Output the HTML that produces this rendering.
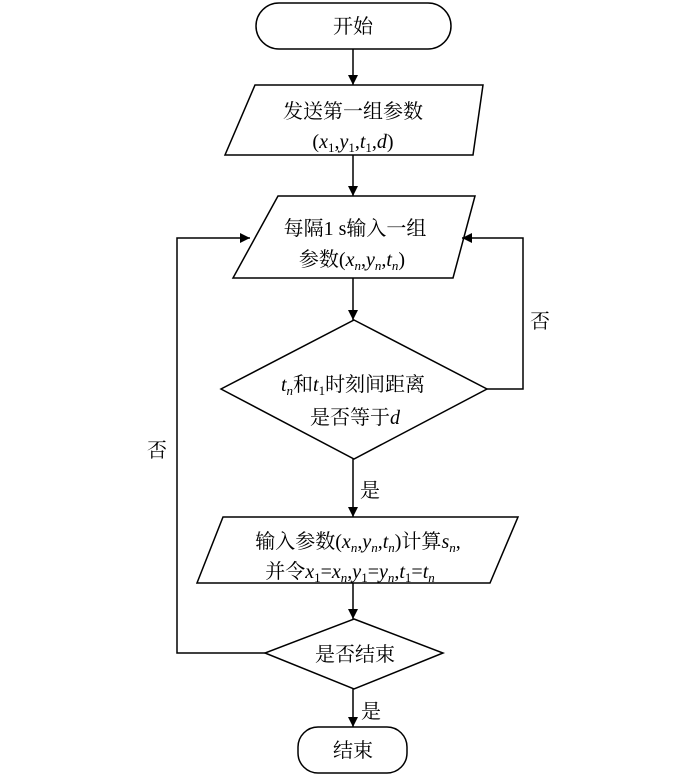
<!DOCTYPE html>
<html><head><meta charset="utf-8"><style>body{margin:0;background:#fff}</style></head><body>
<svg width="700" height="779" viewBox="0 0 700 779" xmlns="http://www.w3.org/2000/svg" font-family="'Liberation Serif','Noto Serif CJK SC','Noto Sans CJK SC',serif" font-size="20">
<defs><marker id="a" markerWidth="10" markerHeight="14" refX="10" refY="7" orient="auto" markerUnits="userSpaceOnUse"><path d="M0,2 L10,7 L0,12 Z" fill="#000"/></marker></defs>
<g fill="none" stroke="#000" stroke-width="1.5">
<rect x="256" y="3" width="195" height="46" rx="23"/>
<line x1="353" y1="49" x2="353" y2="85" marker-end="url(#a)"/>
<polygon points="255,85 483,85 473,155 225,155"/>
<line x1="353" y1="155" x2="353" y2="196" marker-end="url(#a)"/>
<polygon points="278,196 475,196 453,278 233,278"/>
<line x1="353" y1="278" x2="353" y2="320" marker-end="url(#a)"/>
<polygon points="354,320 487,389 354,459 221,389"/>
<polyline points="487,389 523,389 523,238 462,238" marker-end="url(#a)"/>
<line x1="353" y1="459" x2="353" y2="517" marker-end="url(#a)"/>
<polygon points="223,517 518,517 490,583 197,583"/>
<line x1="353" y1="583" x2="353" y2="619" marker-end="url(#a)"/>
<polygon points="354,619 443,653 354,689 265,653"/>
<polyline points="265,653 177,653 177,238 250,238" marker-end="url(#a)"/>
<line x1="353" y1="689" x2="353" y2="727" marker-end="url(#a)"/>
<rect x="298" y="727" width="109" height="46" rx="20"/>
</g>
<g fill="#000" text-anchor="middle">
<text x="353" y="33">开始</text>
<text x="353" y="118">发送第一组参数</text>
<text x="353" y="148">(<tspan font-style="italic">x</tspan><tspan font-size="13" dy="4">1</tspan><tspan dy="-4">,</tspan><tspan font-style="italic">y</tspan><tspan font-size="13" dy="4">1</tspan><tspan dy="-4">,</tspan><tspan font-style="italic">t</tspan><tspan font-size="13" dy="4">1</tspan><tspan dy="-4">,</tspan><tspan font-style="italic">d</tspan>)</text>
<text x="355" y="235">每隔1 s输入一组</text>
<text x="352" y="266">参数(<tspan font-style="italic">x</tspan><tspan font-size="13" dy="4" font-style="italic">n</tspan><tspan dy="-4">,</tspan><tspan font-style="italic">y</tspan><tspan font-size="13" dy="4" font-style="italic">n</tspan><tspan dy="-4">,</tspan><tspan font-style="italic">t</tspan><tspan font-size="13" dy="4" font-style="italic">n</tspan><tspan dy="-4">)</tspan></text>
<text x="353" y="391"><tspan font-style="italic">t</tspan><tspan font-size="13" dy="4" font-style="italic">n</tspan><tspan dy="-4">和</tspan><tspan font-style="italic">t</tspan><tspan font-size="13" dy="4">1</tspan><tspan dy="-4">时刻间距离</tspan></text>
<text x="355" y="424">是否等于<tspan font-style="italic">d</tspan></text>
<text x="358" y="548">输入参数(<tspan font-style="italic">x</tspan><tspan font-size="13" dy="4" font-style="italic">n</tspan><tspan dy="-4">,</tspan><tspan font-style="italic">y</tspan><tspan font-size="13" dy="4" font-style="italic">n</tspan><tspan dy="-4">,</tspan><tspan font-style="italic">t</tspan><tspan font-size="13" dy="4" font-style="italic">n</tspan><tspan dy="-4">)计算</tspan><tspan font-style="italic">s</tspan><tspan font-size="13" dy="4" font-style="italic">n</tspan><tspan dy="-4">,</tspan></text>
<text x="350" y="578">并令<tspan font-style="italic">x</tspan><tspan font-size="13" dy="4">1</tspan><tspan dy="-4">=</tspan><tspan font-style="italic">x</tspan><tspan font-size="13" dy="4" font-style="italic">n</tspan><tspan dy="-4">,</tspan><tspan font-style="italic">y</tspan><tspan font-size="13" dy="4">1</tspan><tspan dy="-4">=</tspan><tspan font-style="italic">y</tspan><tspan font-size="13" dy="4" font-style="italic">n</tspan><tspan dy="-4">,</tspan><tspan font-style="italic">t</tspan><tspan font-size="13" dy="4">1</tspan><tspan dy="-4">=</tspan><tspan font-style="italic">t</tspan><tspan font-size="13" dy="4" font-style="italic">n</tspan></text>
<text x="355" y="661">是否结束</text>
<text x="353" y="757">结束</text>
<text x="540" y="328">否</text>
<text x="157" y="457">否</text>
<text x="370" y="497">是</text>
<text x="371" y="718">是</text>
</g>
</svg>
</body></html>
